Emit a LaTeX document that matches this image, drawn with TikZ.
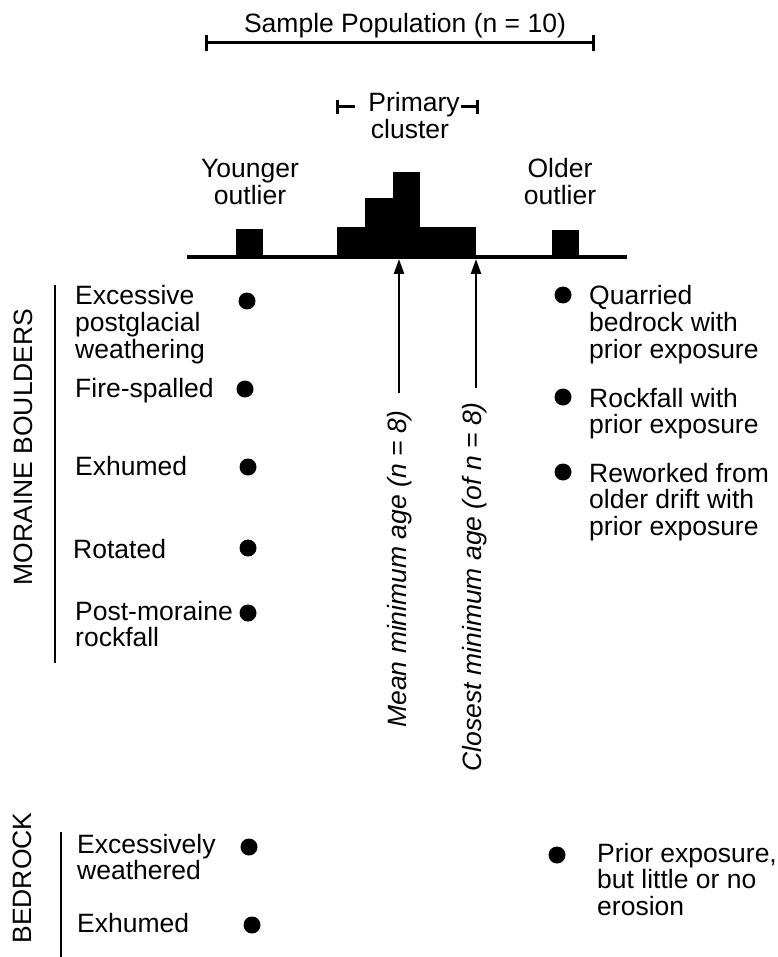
\documentclass[tikz,border=0pt]{standalone}
\usepackage{fontspec}
\setmainfont{Liberation Sans}
\usetikzlibrary{arrows.meta}
\newcommand{\mlines}[1]{\begin{tabular}[t]{@{}l@{}}#1\end{tabular}}
\newcommand{\clines}[1]{\begin{tabular}[t]{@{}c@{}}#1\end{tabular}}
\begin{document}
\begin{tikzpicture}[x=1pt,y=-1pt,
  txt/.style={font=\fontsize{26.5}{25.5}\selectfont, inner sep=0pt, anchor=base west},
  ctxt/.style={font=\fontsize{26.5}{25.5}\selectfont, inner sep=0pt, anchor=base},
  rtxt/.style={font=\fontsize{26.5}{26}\selectfont, inner sep=0pt, rotate=90},
  itxt/.style={font=\fontsize{26.5}{26}\selectfont\itshape, inner sep=0pt, rotate=90, anchor=east},
  dotm/.style={circle, fill=black, inner sep=0pt, minimum size=17pt},
  bar/.style={line width=3pt},
  rule/.style={line width=2.7pt},
  bin/.style={fill=black, draw=none},
  arr/.style={line width=2.4pt, -{Triangle[width=10pt,length=15pt]}}
]
\useasboundingbox (0,0) rectangle (777,957);

% Sample population bar
\node[ctxt] (sp) at (405,33) {Sample Population (n = 10)};
\coordinate (spL) at (206,43);
\coordinate (spR) at (593,43);
\draw[bar] (spL) -- (spR);
\draw[bar] ([yshift=-8pt]spL) -- ([yshift=8pt]spL);
\draw[bar] ([yshift=-8pt]spR) -- ([yshift=8pt]spR);

% Primary cluster bracket
\node[ctxt] (pc1) at (414,112) {Primary};
\node[ctxt] (pc2) at (410,139) {cluster};
\coordinate (pcL) at (337,107);
\coordinate (pcLe) at (355,107);
\coordinate (pcR) at (477,107);
\coordinate (pcRe) at (461,107);
\draw[bar] (pcL) -- (pcLe);
\draw[bar] (pcRe) -- (pcR);
\draw[bar] ([yshift=-7pt]pcL) -- ([yshift=7pt]pcL);
\draw[bar] ([yshift=-7pt]pcR) -- ([yshift=7pt]pcR);

% Outlier labels
\node[ctxt] (yo) at (250,178) {\clines{Younger\\outlier}};
\node[ctxt] (oo) at (560,178) {\clines{Older\\outlier}};

% Histogram
\fill[bin] (236,229) rectangle (263,257);
\fill[bin] (337,227) rectangle (365,257);
\fill[bin] (365,198) rectangle (393,257);
\fill[bin] (393,172) rectangle (420,257);
\fill[bin] (420,227) rectangle (448,257);
\fill[bin] (448,227) rectangle (476,257);
\fill[bin] (552,230) rectangle (579,257);
\coordinate (axL) at (187,257);
\coordinate (axR) at (627,257);
\draw[line width=3.5pt] (axL) -- (axR);

% Arrows and rotated labels
\node[itxt] (mean) at (400,410) {Mean minimum age (\textit{n} = 8)};
\node[itxt] (close) at (475,402) {Closest minimum age (of \textit{n} = 8)};
\coordinate (meanT) at (399,259);
\coordinate (closeT) at (476,259);
\coordinate (meanS) at (399,393);
\coordinate (closeS) at (476,388);
\draw[arr] (meanS) -- (meanT);
\draw[arr] (closeS) -- (closeT);

% Moraine boulders
\node[rtxt] (mb) at (23,447) {MORAINE BOULDERS};
\coordinate (mbT) at (55,285);
\coordinate (mbB) at (55,663);
\draw[rule] (mbT) -- (mbB);

\node[txt] (l1) at (75,305) {\mlines{Excessive\\postglacial\\weathering}};
\node[txt] (l2) at (75,397) {Fire-spalled};
\node[txt] (l3) at (75,475) {Exhumed};
\node[txt] (l4) at (73,558) {Rotated};
\node[txt] (l5) at (75,620) {\mlines{Post-moraine\\rockfall}};
\node[dotm] (d1) at (247,301) {};
\node[dotm] (d2) at (245,389) {};
\node[dotm] (d3) at (248,467) {};
\node[dotm] (d4) at (248,548) {};
\node[dotm] (d5) at (248,613) {};

\node[dotm] (r1) at (563,295) {};
\node[dotm] (r2) at (563,397) {};
\node[dotm] (r3) at (563,472) {};
\node[txt] (rt1) at (589,305) {\mlines{Quarried\\bedrock with\\prior exposure}};
\node[txt] (rt2) at (589,407) {\mlines{Rockfall with\\prior exposure}};
\node[txt] (rt3) at (589,482) {\mlines{Reworked from\\older drift with\\prior exposure}};

% Bedrock
\node[rtxt] (br) at (22,878) {BEDROCK};
\coordinate (brT) at (61,832);
\coordinate (brB) at (61,957);
\draw[rule] (brT) -- (brB);
\node[txt] (b1) at (77,853) {\mlines{Excessively\\weathered}};
\node[txt] (b2) at (77,932) {Exhumed};
\node[dotm] (bd1) at (249,847) {};
\node[dotm] (bd2) at (252,925) {};
\node[dotm] (bd3) at (557,855) {};
\node[txt] (bt) at (597,862) {\mlines{Prior exposure,\\but little or no\\erosion}};
\end{tikzpicture}
\end{document}
